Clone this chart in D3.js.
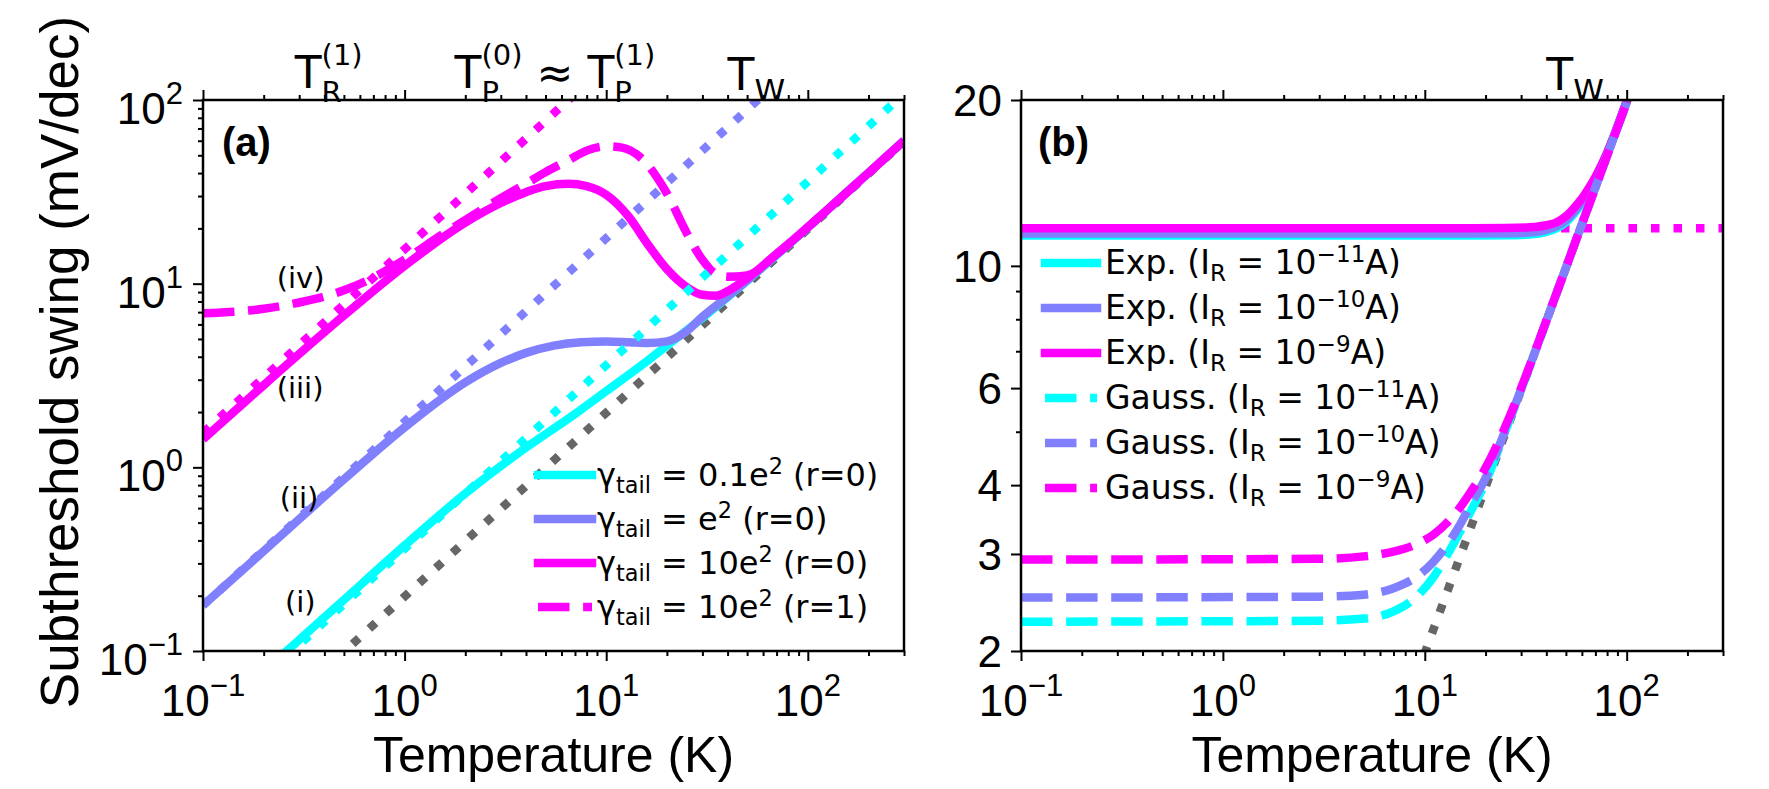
<!DOCTYPE html>
<html>
<head>
<meta charset="utf-8">
<script src="https://cdn.jsdelivr.net/npm/d3@7"></script>
<style>
  body { margin: 0; background: #fff; }
  svg { display: block; }
</style>
</head>
<body>
<script>
// ---------- data, panel (a) : swing vs temperature ----------
const tA_cyan = [0.2, 0.3, 0.5, 1, 2, 4, 7, 10, 15, 20, 30, 45, 70, 100, 150, 200, 300];
const sA_cyan = [0.077, 0.115, 0.19, 0.375, 0.72, 1.28, 1.95, 2.6, 3.6, 4.6, 6.5, 9.4, 14.3, 20.2, 30.2, 40.1, 60];

const tA_blue = [0.1, 0.2, 0.5, 1, 2, 3, 4, 5.5, 7.5, 10, 13, 16, 20, 25, 30, 40, 50, 70, 100, 150, 200, 300];
const sA_blue = [0.177, 0.35, 0.86, 1.65, 2.9, 3.7, 4.2, 4.6, 4.8, 4.85, 4.8, 4.75, 4.85, 5.5, 6.6, 8.5, 10.4, 14.4, 20.2, 30.2, 40.1, 60];

const tA_mag = [0.1, 0.2, 0.5, 1, 2, 3, 4, 5, 6.5, 8, 10, 13, 16, 20, 25, 30, 35, 40, 50, 70, 100, 150, 200, 300];
const sA_mag = [1.42, 2.8, 6.7, 12.5, 21.5, 27.5, 31.5, 34, 35, 34, 30.5, 23, 16.5, 12, 9.6, 8.7, 8.6, 9.1, 10.7, 14.5, 20.3, 30.2, 40.1, 60];

const tA_magR1 = [0.1, 0.2, 0.3, 0.5, 0.7, 1, 1.5, 2, 3, 4, 5, 6.5, 8, 10, 12, 15, 20, 25, 30, 35, 40, 50, 70, 100, 300];
const sA_magR1 = [6.9, 7.3, 7.9, 9.2, 10.8, 13.5, 18.2, 22.2, 29.2, 35, 40.5, 47, 53, 56, 55, 48, 31, 19, 13.5, 11.3, 10.9, 11.1, 14.5, 20.3, 60];

// straight asymptotes (T, S) end points
const dotA_gray = [[0.1, 0.0198], [300, 59.5]];
const dotA_cyan = [[0.1, 0.036], [300, 108]];
const dotA_blue = [[0.1, 0.177], [100, 177]];
const dotA_mag = [[0.1, 1.54], [10, 154]];

const legendA = ['0.1e', 'e', '10e', '10e'];
const legendA_r = ['0', '0', '0', '1'];

// ---------- data, panel (b) ----------
const tB_exp = [0.1, 10, 25, 35, 40, 45, 50, 55, 60, 65, 70, 80, 100];
const sB_expCyan = [11.35, 11.35, 11.36, 11.42, 11.52, 11.7, 12.0, 12.45, 13.0, 13.65, 14.35, 16.0, 19.9];
const sB_expBlue = [11.45, 11.45, 11.46, 11.52, 11.62, 11.8, 12.1, 12.55, 13.1, 13.7, 14.4, 16.0, 19.9];
const sB_expMag = [11.7, 11.7, 11.71, 11.76, 11.85, 12.0, 12.3, 12.75, 13.25, 13.85, 14.5, 16.05, 19.9];

const tB_gauss = [0.1, 3, 5, 7, 9, 11, 13, 15, 17, 20, 25, 30, 40, 60, 100];
const sB_gaussCyan = [2.26, 2.27, 2.29, 2.36, 2.5, 2.72, 3.0, 3.3, 3.6, 4.05, 5.0, 5.96, 7.94, 11.9, 19.8];
const sB_gaussBlue = [2.5, 2.51, 2.53, 2.6, 2.72, 2.9, 3.13, 3.4, 3.7, 4.12, 5.02, 5.97, 7.94, 11.9, 19.8];
const sB_gaussMag = [2.93, 2.94, 2.97, 3.03, 3.12, 3.25, 3.43, 3.65, 3.9, 4.3, 5.1, 6.0, 7.95, 11.9, 19.8];

const dotB_gray = [[1, 0.1984], [300, 59.5]];
const dotB_mag = [[0.1, 11.7], [300, 11.7]];

const legendB_kind = ['Exp.', 'Exp.', 'Exp.', 'Gauss.', 'Gauss.', 'Gauss.'];
const legendB_exp = ['\u221211', '\u221210', '\u22129', '\u221211', '\u221210', '\u22129'];

const xTicksMajor = [0.1, 1, 10, 100];
const yTicksA = [0.1, 1, 10, 100];
const yTicksB = [2, 3, 4, 6, 10, 20];
const yTicksBMinor = [5, 7, 8, 9];

// ---------- setup ----------
const CYAN = '#00ffff', BLUE = '#8080ff', MAG = '#ff00ff', GRAY = '#666666';
const LW = 8.5;
const DASH = '31.5,13.6', DOT = '8.5,14';
const NUM = "'Liberation Sans', Arial, sans-serif";
const DV = "'DejaVu Sans', sans-serif";

const svg = d3.select('body').append('svg')
  .attr('width', 1769).attr('height', 789);

const boxA = { left: 203, right: 904, top: 100, bottom: 651 };
const boxB = { left: 1021, right: 1723, top: 100, bottom: 651 };

const xA = d3.scaleLog().domain([0.1, 300]).range([boxA.left, boxA.right]);
const yA = d3.scaleLog().domain([0.1, 100]).range([boxA.bottom, boxA.top]);
const xB = d3.scaleLog().domain([0.1, 300]).range([boxB.left, boxB.right]);
const yB = d3.scaleLog().domain([2, 20]).range([boxB.bottom, boxB.top]);

function minorTicks(lo, hi) {
  const out = [];
  for (let e = Math.floor(Math.log10(lo)); e <= Math.ceil(Math.log10(hi)); e++) {
    for (let k = 2; k <= 9; k++) {
      const v = k * Math.pow(10, e);
      if (v >= lo && v <= hi) out.push(v);
    }
  }
  return out;
}

const fmtExp = e => e < 0 ? '\u2212' + (-e) : String(e);

function zip(ts, ss) { return ts.map((t, i) => [t, ss[i]]); }

function drawPanel(id, box, x, y) {
  const g = svg.append('g');
  svg.append('clipPath').attr('id', 'clip' + id)
    .append('rect').attr('x', box.left).attr('y', box.top)
    .attr('width', box.right - box.left).attr('height', box.bottom - box.top);
  const plot = g.append('g').attr('clip-path', `url(#clip${id})`);

  // x axes (bottom + top)
  const minX = minorTicks(0.1, 300);
  [[d3.axisBottom, box.bottom], [d3.axisTop, box.top]].forEach(([ax, yy]) => {
    g.append('g').attr('transform', `translate(0,${yy})`)
      .call(ax(x).tickValues(xTicksMajor).tickSize(10).tickFormat(''))
      .call(s => s.select('.domain').remove());
    g.append('g').attr('transform', `translate(0,${yy})`)
      .call(ax(x).tickValues(minX).tickSize(5).tickFormat(''))
      .call(s => s.select('.domain').remove());
  });
  g.selectAll('.tick line').attr('stroke-width', 2);

  xTicksMajor.forEach(v => {
    const t = g.append('text').attr('x', x(v)).attr('y', 716)
      .attr('text-anchor', 'middle').attr('font-family', NUM).attr('font-size', 44);
    t.append('tspan').text('10');
    t.append('tspan').attr('dy', -20).attr('font-size', 31).text(fmtExp(Math.round(Math.log10(v))));
  });

  g.append('text').attr('x', (box.left + box.right) / 2).attr('y', 772)
    .attr('text-anchor', 'middle').attr('font-family', NUM).attr('font-size', 50)
    .text('Temperature (K)');

  return { g, plot };
}

function line(plot, x, y, pts, color, dash, curve) {
  plot.append('path').datum(pts)
    .attr('d', d3.line().x(d => x(d[0])).y(d => y(d[1])).curve(curve || d3.curveMonotoneX))
    .attr('fill', 'none').attr('stroke', color).attr('stroke-width', LW)
    .attr('stroke-dasharray', dash || null)
    .attr('stroke-linejoin', 'round');
}

// text built from [string, kind] parts; kind '' | 'sub' | 'sup';
// a 'sup' right after a 'sub' is stacked above it
function richText(g, x, y, size, family, parts, subDy, supDy, small) {
  const t = g.append('text').attr('x', x).attr('y', y)
    .attr('font-family', family).attr('font-size', size);
  let shift = 0, lastSubW = 0;
  parts.forEach(([txt, kind]) => {
    const target = kind === 'sub' ? subDy : kind === 'sup' ? supDy : 0;
    const ts = t.append('tspan').attr('dy', target - shift).text(txt);
    if (kind) ts.attr('font-size', small || size * 0.7);
    if (kind === 'sup' && lastSubW) ts.attr('dx', -lastSubW);
    lastSubW = kind === 'sub' ? ts.node().getComputedTextLength() : 0;
    shift = target;
  });
  return t;
}

function legendRow(g, x1, x2, xt, yy, color, dash, parts, size) {
  g.append('line').attr('x1', x1).attr('x2', x2).attr('y1', yy).attr('y2', yy)
    .attr('stroke', color).attr('stroke-width', LW)
    .attr('stroke-dasharray', dash || null)
    .attr('stroke-linecap', dash ? 'butt' : 'square');
  richText(g, xt, yy + 11, size, DV, parts, 0.22 * size, -0.36 * size);
}

// ================= panel (a) =================
const A = drawPanel('A', boxA, xA, yA);

A.g.append('g').attr('transform', `translate(${boxA.left},0)`)
  .call(d3.axisLeft(yA).tickValues(yTicksA).tickSize(10).tickFormat(''))
  .call(s => s.select('.domain').remove());
A.g.append('g').attr('transform', `translate(${boxA.left},0)`)
  .call(d3.axisLeft(yA).tickValues(minorTicks(0.1, 100)).tickSize(5).tickFormat(''))
  .call(s => s.select('.domain').remove());
A.g.selectAll('.tick line').attr('stroke-width', 2);

yTicksA.forEach(v => {
  const t = A.g.append('text').attr('x', 183).attr('y', yA(v) + 24)
    .attr('text-anchor', 'end').attr('font-family', NUM).attr('font-size', 44);
  t.append('tspan').text('10');
  t.append('tspan').attr('dy', -20).attr('font-size', 31).text(fmtExp(Math.round(Math.log10(v))));
});

A.g.append('text')
  .attr('transform', 'translate(78,362) rotate(-90)')
  .attr('text-anchor', 'middle').attr('font-family', NUM).attr('font-size', 53)
  .text('Subthreshold swing (mV/dec)');

line(A.plot, xA, yA, dotA_gray, GRAY, DOT, d3.curveLinear);
line(A.plot, xA, yA, zip(tA_cyan, sA_cyan), CYAN);
line(A.plot, xA, yA, zip(tA_blue, sA_blue), BLUE);
line(A.plot, xA, yA, zip(tA_mag, sA_mag), MAG);
line(A.plot, xA, yA, zip(tA_magR1, sA_magR1), MAG, DASH);
line(A.plot, xA, yA, dotA_cyan, CYAN, DOT, d3.curveLinear);
line(A.plot, xA, yA, dotA_blue, BLUE, DOT, d3.curveLinear);
line(A.plot, xA, yA, dotA_mag, MAG, DOT, d3.curveLinear);

A.g.append('rect').attr('x', boxA.left).attr('y', boxA.top)
  .attr('width', boxA.right - boxA.left).attr('height', boxA.bottom - boxA.top)
  .attr('fill', 'none').attr('stroke', '#000').attr('stroke-width', 2.5);

A.g.append('text').attr('x', 222).attr('y', 156)
  .attr('font-family', NUM).attr('font-weight', 'bold').attr('font-size', 40).text('(a)');

// curve tags
const tagsA = [['(iv)', 0.232, 9.5], ['(iii)', 0.232, 2.39], ['(ii)', 0.24, 0.6], ['(i)', 0.255, 0.163]];
tagsA.forEach(([txt, t, s]) => {
  A.g.append('text').attr('x', xA(t)).attr('y', yA(s))
    .attr('font-family', DV).attr('font-size', 29).text(txt);
});

// top characteristic temperatures
richText(A.g, xA(0.285), 88, 44, DV, [['T', ''], ['R', 'sub'], ['(1)', 'sup']], 14, -23, 29);
richText(A.g, xA(1.77), 88, 44, DV,
  [['T', ''], ['P', 'sub'], ['(0)', 'sup'], [' \u2248 T', ''], ['P', 'sub'], ['(1)', 'sup']], 14, -23, 29);
richText(A.g, xA(40), 90, 44, DV, [['T', ''], ['W', 'sub']], 11, -19, 31);

// legend (a)
const colA = [CYAN, BLUE, MAG, MAG];
legendA.forEach((c, i) => {
  legendRow(A.g, 538, 592, 597, 475 + 44 * i, colA[i], i === 3 ? DASH : null,
    [['\u03b3', ''], ['tail', 'sub'], [' = ' + c, ''], ['2', 'sup'], [` (r=${legendA_r[i]})`, '']], 32);
});

// ================= panel (b) =================
const B = drawPanel('B', boxB, xB, yB);

B.g.append('g').attr('transform', `translate(${boxB.left},0)`)
  .call(d3.axisLeft(yB).tickValues(yTicksB).tickSize(10).tickFormat(''))
  .call(s => s.select('.domain').remove());
B.g.append('g').attr('transform', `translate(${boxB.left},0)`)
  .call(d3.axisLeft(yB).tickValues(yTicksBMinor).tickSize(5).tickFormat(''))
  .call(s => s.select('.domain').remove());
B.g.selectAll('.tick line').attr('stroke-width', 2);

yTicksB.forEach(v => {
  B.g.append('text').attr('x', 1002).attr('y', yB(v) + 16)
    .attr('text-anchor', 'end').attr('font-family', NUM).attr('font-size', 44).text(v);
});

line(B.plot, xB, yB, dotB_gray, GRAY, DOT, d3.curveLinear);
line(B.plot, xB, yB, dotB_mag, MAG, DOT, d3.curveLinear);
line(B.plot, xB, yB, zip(tB_exp, sB_expCyan), CYAN);
line(B.plot, xB, yB, zip(tB_exp, sB_expBlue), BLUE);
line(B.plot, xB, yB, zip(tB_exp, sB_expMag), MAG);
line(B.plot, xB, yB, zip(tB_gauss, sB_gaussCyan), CYAN, DASH);
line(B.plot, xB, yB, zip(tB_gauss, sB_gaussBlue), BLUE, DASH);
line(B.plot, xB, yB, zip(tB_gauss, sB_gaussMag), MAG, DASH);

B.g.append('rect').attr('x', boxB.left).attr('y', boxB.top)
  .attr('width', boxB.right - boxB.left).attr('height', boxB.bottom - boxB.top)
  .attr('fill', 'none').attr('stroke', '#000').attr('stroke-width', 2.5);

B.g.append('text').attr('x', 1038).attr('y', 156)
  .attr('font-family', NUM).attr('font-weight', 'bold').attr('font-size', 40).text('(b)');

richText(B.g, xB(40), 90, 44, DV, [['T', ''], ['W', 'sub']], 11, -19, 31);

const colB = [CYAN, BLUE, MAG, CYAN, BLUE, MAG];
legendB_kind.forEach((k, i) => {
  legendRow(B.g, 1045, 1097, 1105, 263 + 45 * i, colB[i], i >= 3 ? DASH : null,
    [[k + ' (I', ''], ['R', 'sub'], [' = 10', ''], [legendB_exp[i], 'sup'], ['A)', '']], 33);
});
</script>
</body>
</html>
